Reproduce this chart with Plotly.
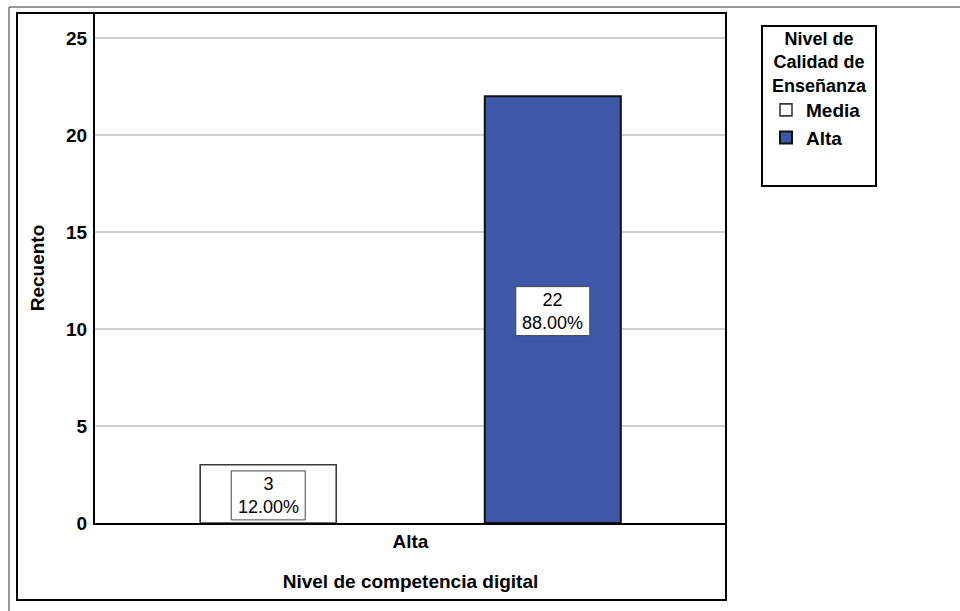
import plotly.graph_objects as go

# ---- data ----
categories = ["Alta"]
series_names = ["Media", "Alta"]
series_values = [[3], [22]]
series_colors = ["#FFFFFF", "#3E58A8"]
series_line_colors = ["#3A3A3A", "#111111"]
y_ticks = [0, 5, 10, 15, 20, 25]
legend_title = "Nivel de<br>Calidad de<br>Enseñanza"
x_title = "Nivel de competencia digital"
y_title = "Recuento"

FONT = "Liberation Sans, Arial, sans-serif"
BOLD = dict(family=FONT, size=19, color="#000000", weight="bold")
REG = dict(family=FONT, size=18, color="#000000")

W, H = 960, 611
L, R, T, B = 95, 726, 13, 523  # plot area in pixels

def px(xp):
    return (xp - L) / (R - L)

def py(yp):
    return (B - yp) / (B - T)

bargap = 0.098
bargroupgap = 0.522

fig = go.Figure()
for name, vals, col, lc in zip(series_names, series_values, series_colors, series_line_colors):
    fig.add_trace(go.Bar(
        x=categories, y=vals, name=name,
        marker=dict(color=col, line=dict(color=lc, width=1.6 if col == "#FFFFFF" else 2)),
        hoverinfo="skip",
    ))

# data labels (count + percentage) centered in each bar
total = sum(v[0] for v in series_values)
n = len(series_names)
group_w = 1 - bargap
annotations = []
shapes = []
for i, vals in enumerate(series_values):
    for ci, v in enumerate(vals):
        center = ci - group_w / 2 + group_w / n * (i + 0.5)
        shapes.append(dict(
            type="rect", xref="x", yref="y",
            xsizemode="pixel", xanchor=center, x0=-37, x1=37,
            ysizemode="pixel", yanchor=v / 2, y0=-26, y1=23,
            line=dict(color="#444444", width=1), fillcolor="#FFFFFF", layer="above",
        ))
        annotations.append(dict(
            x=center, y=v / 2, xref="x", yref="y", yshift=-2,
            text=f"{v}<br>{v / total * 100:.2f}%", showarrow=False, font=REG,
            align="center",
        ))

# legend title
annotations.append(dict(
    x=px(819), y=py(63), xref="paper", yref="paper",
    text=legend_title, showarrow=False, align="center",
    font=dict(family=FONT, size=18, color="#000000", weight="bold"),
    xanchor="center", yanchor="middle",
))

shapes += [
    # outer thin frame
    dict(type="rect", xref="paper", yref="paper",
         x0=px(9), x1=px(990), y0=py(640), y1=py(7),
         line=dict(color="#333333", width=1), fillcolor="rgba(0,0,0,0)", layer="above"),
    # inner thick frame
    dict(type="rect", xref="paper", yref="paper",
         x0=px(17), x1=px(726), y0=py(600), y1=py(13),
         line=dict(color="#000000", width=2), fillcolor="rgba(0,0,0,0)", layer="above"),
    # legend frame
    dict(type="rect", xref="paper", yref="paper",
         x0=px(762), x1=px(876), y0=py(186), y1=py(26),
         line=dict(color="#000000", width=2), fillcolor="rgba(0,0,0,0)", layer="above"),
]

fig.update_layout(
    width=W, height=H,
    margin=dict(l=L, r=W - R, t=T, b=H - B, pad=0, autoexpand=False),
    paper_bgcolor="#FFFFFF", plot_bgcolor="#FFFFFF",
    barmode="group", bargap=bargap, bargroupgap=bargroupgap,
    font=dict(family=FONT, size=19, color="#000000"),
    showlegend=True,
    legend=dict(
        font=BOLD,
        x=px(766), xanchor="left", y=py(91), yanchor="top",
        bgcolor="rgba(0,0,0,0)", borderwidth=0,
        itemwidth=30, tracegroupgap=0,
    ),
    shapes=shapes,
    annotations=annotations,
)

fig.update_xaxes(
    type="category",
    showline=True, linecolor="#000000", linewidth=2,
    showgrid=False, ticks="", tickfont=BOLD, ticklabelstandoff=0,
    title=dict(text=x_title, font=BOLD, standoff=24),
    automargin=False,
)
fig.update_yaxes(
    range=[0, 26.29], tickvals=y_ticks, ticktext=[str(t) for t in y_ticks],
    showline=True, linecolor="#000000", linewidth=2,
    showgrid=True, gridcolor="#CFCFCF", gridwidth=1.5,
    zeroline=False, ticks="", tickfont=BOLD, ticklabelstandoff=2,
    title=dict(text=y_title, font=BOLD, standoff=16),
    automargin=False,
)

fig.write_html(
    "out.html",
    config={"displayModeBar": False},
    post_script="document.body.style.margin='0';",
)
